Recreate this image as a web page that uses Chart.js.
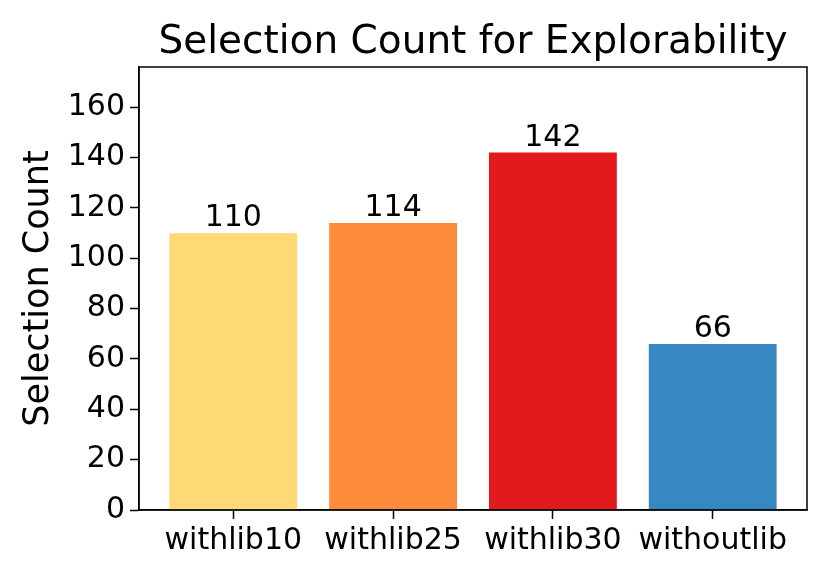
<!DOCTYPE html>
<html>
<head>
<meta charset="utf-8">
<script src="https://cdn.jsdelivr.net/npm/chart.js@4/dist/chart.umd.min.js"></script>
<style>
  html, body { margin: 0; padding: 0; background: #fff; }
  #wrap { width: 830px; height: 579px; }
</style>
</head>
<body>
<div id="wrap"><canvas id="myChart" width="830" height="579"></canvas></div>
<script>
const categories = ["withlib10", "withlib25", "withlib30", "withoutlib"];
const counts = [110, 114, 142, 66];
const barColors = ["#fed976", "#fd8d3c", "#e31a1c", "#3787c0"];
const yTicks = [0, 20, 40, 60, 80, 100, 120, 140, 160];
const yMax = 176;

const FONT = "'DejaVu Sans', sans-serif";
const ctx = document.getElementById("myChart").getContext("2d");

// frame, title and value labels on top of the bars
const extras = {
  id: "extras",
  afterDatasetsDraw(chart) {
    const c = chart.ctx;
    const a = chart.chartArea;
    c.save();
    c.strokeStyle = "#000";
    c.lineWidth = 1.5;
    c.strokeRect(a.left, a.top, a.right - a.left, a.bottom - a.top);

    c.fillStyle = "#000";
    c.font = "30px " + FONT;
    c.textAlign = "center";
    c.textBaseline = "alphabetic";
    chart.getDatasetMeta(0).data.forEach((bar, i) => {
      c.fillText(String(counts[i]), bar.x, bar.y - 7);
    });

    c.font = "39px " + FONT;
    c.fillText("Selection Count for Explorability", (a.left + a.right) / 2, 53);
    c.restore();
  },
};

const barChart = new Chart(ctx, {
  type: "bar",
  data: {
    datasets: [
      {
        data: counts.map((v, i) => ({ x: i, y: v })),
        backgroundColor: barColors,
        borderWidth: 0,
        barPercentage: 0.8,
        categoryPercentage: 1.0,
      },
    ],
  },
  options: {
    responsive: false,
    animation: false,
    layout: { padding: { top: 67, right: 23, left: 0, bottom: 0 } },
    plugins: {
      legend: { display: false },
      tooltip: { enabled: false },
      title: { display: false },
    },
    scales: {
      x: {
        type: "linear",
        offset: false,
        min: -0.59,
        max: 3.59,
        afterBuildTicks: (s) => {
          s.ticks = categories.map((c, i) => ({ value: i }));
        },
        afterFit: (s) => {
          s.height = 69;
        },
        ticks: {
          autoSkip: false,
          maxRotation: 0,
          padding: 4,
          color: "#000",
          font: { family: FONT, size: 30 },
          callback: (v) => categories[v],
        },
        grid: {
          offset: false,
          drawOnChartArea: false,
          drawTicks: true,
          tickLength: 9,
          tickColor: "#000",
          tickWidth: 1.5,
        },
        border: { display: true, color: "#000", width: 1.5 },
      },
      y: {
        min: 0,
        max: yMax,
        afterBuildTicks: (s) => {
          s.ticks = yTicks.map((v) => ({ value: v }));
        },
        afterFit: (s) => {
          s.width = 139;
        },
        ticks: {
          padding: 5,
          color: "#000",
          font: { family: FONT, size: 30 },
        },
        grid: {
          drawOnChartArea: false,
          drawTicks: true,
          tickLength: 9,
          tickColor: "#000",
          tickWidth: 1.5,
        },
        border: { display: true, color: "#000", width: 1.5 },
        title: {
          display: true,
          text: "Selection Count",
          color: "#000",
          font: { family: FONT, size: 35 },
          padding: { top: 18, bottom: 0 },
        },
      },
    },
  },
  plugins: [extras],
});
</script>
</body>
</html>
